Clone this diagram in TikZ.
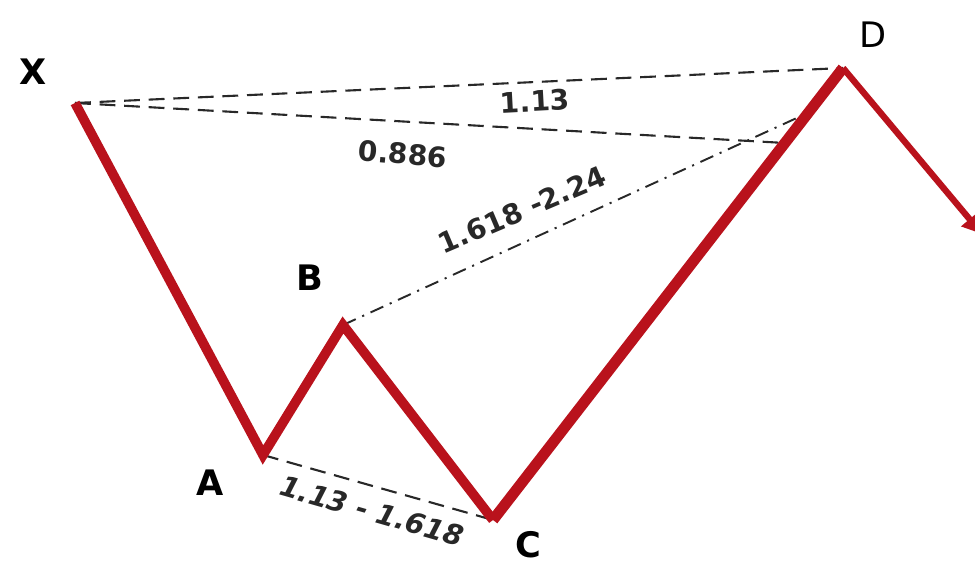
\documentclass[tikz,border=0pt]{standalone}
\usepackage{fontspec}
\setmainfont{DejaVu Sans}
\usetikzlibrary{arrows.meta}
\definecolor{BatRed}{RGB}{185,18,28}
\definecolor{BatInk}{RGB}{40,40,40}
\tikzset{
  bat/leg/.style={draw=BatRed, line width=5.5pt, line join=miter, line cap=butt},
  bat/exit/.style={draw=BatRed, line width=3.6pt, -{Triangle[length=11pt,width=12pt]}},
  bat/ratio/.style={draw=BatInk, line width=1.2pt, dash pattern=on 9pt off 5pt},
  bat/ratiodot/.style={draw=BatInk, line width=1.1pt, dash pattern=on 8pt off 4pt on 1.2pt off 4pt},
  bat/point/.style={font=\bfseries\fontsize{20}{22}\selectfont, text=black, inner sep=1pt},
  bat/value/.style={font=\bfseries\fontsize{16}{18}\selectfont, text=BatInk, inner sep=1pt}
}

\begin{document}
\begin{tikzpicture}[x=0.02cm,y=-0.02cm]
  \useasboundingbox (0,0) rectangle (975,567);
  \clip (0,0) rectangle (975,567);
  % pattern points
  \coordinate (X) at (75,103);
  \coordinate (A) at (263,455);
  \coordinate (B) at (343,325);
  \coordinate (C) at (493,520);
  \coordinate (D) at (843,68);
  \coordinate (xd) at (785,143);
  \coordinate (bd) at (799,117);
  \coordinate (out) at (982,234);
  % ratio lines
  \draw[bat/ratio] (X) -- (D);
  \draw[bat/ratio] (X) -- (xd);
  \draw[bat/ratiodot] (B) -- (bd);
  \draw[bat/ratio] (A) -- (C);
  % legs
  \draw[bat/leg] (X) -- (A) -- (B) -- (C);
  \draw[bat/leg,line width=6.2pt] (C) -- (D);
  \draw[bat/exit] (D) -- (out);
  % point labels
  \node[bat/point] (lx) at (33,72) {X};
  \node[bat/point] (la) at (210,483) {A};
  \node[bat/point] (lb) at (310,278) {B};
  \node[bat/point] (lc) at (528,545) {C};
  \node[bat/point,font=\fontsize{20}{22}\selectfont] (ld) at (873,35) {D};
  % ratio labels
  \node[bat/value,rotate=3] (rxd) at (535,101) {1.13};
  \node[bat/value,rotate=-5] (rxa) at (403,154) {0.886};
  \node[bat/value,rotate=23] (rbc) at (522,210) {1.618 -2.24};
  \node[bat/value,rotate=-16,font=\bfseries\itshape\fontsize{16}{18}\selectfont] (rac) at (372,511) {1.13 - 1.618};
\end{tikzpicture}
\end{document}
